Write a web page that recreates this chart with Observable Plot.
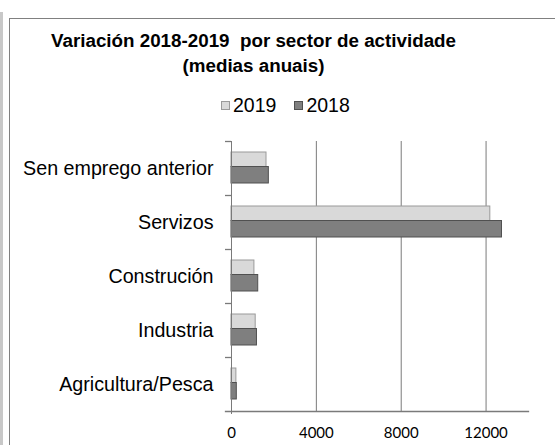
<!DOCTYPE html>
<html>
<head>
<meta charset="utf-8">
<script src="https://cdn.jsdelivr.net/npm/d3@7"></script>
<script src="https://cdn.jsdelivr.net/npm/@observablehq/plot@0.6"></script>
<style>
  html, body { margin: 0; padding: 0; background: #fff; }
  #wrap { position: relative; width: 555px; height: 445px; overflow: hidden; font-family: "Liberation Sans", Arial, sans-serif; }
  #strip { position: absolute; left: 0; top: 12px; width: 3px; height: 440px; background: #c8c8c8; }
  #frame { position: absolute; left: 9px; top: 18px; width: 560px; height: 440px; border-left: 1px solid #808080; border-top: 1px solid #808080; }
  #title { position: absolute; left: 0; top: 28px; width: 507px; text-align: center; font-weight: bold; font-size: 18.8px; line-height: 25px; white-space: pre; color: #000; }
  #legend { position: absolute; left: 221px; top: 93px; display: flex; align-items: center; font-size: 19.5px; line-height: 24px; color: #000; }
  #legend .sw { width: 7px; height: 7px; border: 1px solid; margin-right: 3px; }
  #legend .item { display: flex; align-items: center; margin-right: 18px; }
  #chart { position: absolute; left: 0; top: 120px; }
  #chart svg [aria-label^="y-axis"] text { font-family: "Liberation Sans", Arial, sans-serif !important; font-size: 19.7px !important; fill: #000; }
  #chart svg [aria-label^="x-axis"] text { font-family: Lato, sans-serif !important; font-size: 15px !important; fill: #000; }
</style>
</head>
<body>
<div id="wrap">
  <div id="strip"></div>
  <div id="frame"></div>
  <div id="title"></div>
  <div id="legend"></div>
  <div id="chart"></div>
</div>
<script>
const titleLines = ["Variación 2018-2019  por sector de actividade", "(medias anuais)"];
const sectors = ["Sen emprego anterior", "Servizos", "Construción", "Industria", "Agricultura/Pesca"];
const years = ["2019", "2018"];
const values2019 = [1650, 12200, 1080, 1140, 230];
const values2018 = [1760, 12750, 1260, 1200, 250];
const xTicks = [0, 4000, 8000, 12000];
const gridTicks = [4000, 8000, 12000];
const xMax = 14000;
const colors = {"2019": "#d9d9d9", "2018": "#7f7f7f"};
const strokes = {"2019": "#9a9a9a", "2018": "#505050"};
const lineColor = "#7a7a7a";

document.getElementById("title").textContent = titleLines.join("\n");
const legend = document.getElementById("legend");
for (const yr of years) {
  const item = document.createElement("div");
  item.className = "item";
  const sw = document.createElement("div");
  sw.className = "sw";
  sw.style.background = colors[yr];
  sw.style.borderColor = strokes[yr];
  const t = document.createElement("span");
  t.textContent = yr;
  item.appendChild(sw); item.appendChild(t);
  legend.appendChild(item);
}

const d2019 = sectors.map((s, i) => ({sector: s, value: values2019[i]}));
const d2018 = sectors.map((s, i) => ({sector: s, value: values2018[i]}));

const W = 555, H = 325, mT = 21, mB = 34, mL = 231, mR = 27;
const band = (H - mT - mB) / sectors.length;
const plotW = W - mL - mR;

const chart = Plot.plot({
  width: W, height: H,
  marginTop: mT, marginBottom: mB, marginLeft: mL, marginRight: mR,
  style: {background: "transparent", color: "#000"},
  x: {domain: [0, xMax], ticks: xTicks, tickSize: 0, tickPadding: 16, tickFormat: d3.format("d"), label: null},
  y: {domain: sectors, paddingInner: 0, paddingOuter: 0, tickSize: 0, tickPadding: 18, label: null},
  marks: [
    Plot.ruleX(gridTicks, {stroke: lineColor, strokeOpacity: 1}),
    Plot.barX(d2019, {x: "value", y: "sector", fill: colors["2019"], stroke: strokes["2019"], insetTop: 11, insetBottom: band - 25.5}),
    Plot.barX(d2018, {x: "value", y: "sector", fill: colors["2018"], stroke: strokes["2018"], insetTop: 25.5, insetBottom: 12}),
    Plot.ruleX([0], {stroke: lineColor, insetBottom: -3}),
    Plot.ruleY(sectors, {y: d => d, dy: -band / 2, stroke: lineColor, strokeWidth: 1.3, insetLeft: -6, insetRight: plotW}),
    Plot.frame({anchor: "bottom", stroke: lineColor, strokeWidth: 1.3, insetLeft: -6})
  ]
});
document.getElementById("chart").appendChild(chart);
</script>
</body>
</html>
